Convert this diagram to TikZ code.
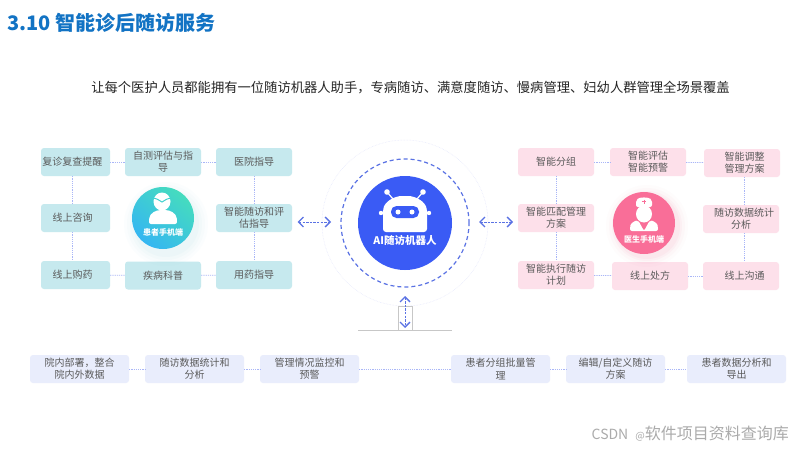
\documentclass[tikz,border=0pt]{standalone}
\usepackage{fontspec}
\setmainfont{Noto Sans CJK SC}
\usetikzlibrary{arrows.meta,calc}
\definecolor{tealbox}{HTML}{C6E9EE}
\definecolor{pinkbox}{HTML}{FDE0EA}
\definecolor{lavbox}{HTML}{E9EDFC}
\definecolor{linkc}{HTML}{A9B6F7}
\definecolor{arrowc}{HTML}{5A72E4}
\definecolor{txt}{HTML}{5A5A5A}
\definecolor{robot}{HTML}{3A5BF5}
\definecolor{docpink}{HTML}{F96E98}
\definecolor{titleblue}{HTML}{1273C4}
\definecolor{gradA}{HTML}{45DCBE}
\definecolor{gradB}{HTML}{35B6F2}
\definecolor{shadeteal}{HTML}{7FD0D8}
\tikzset{
  x=1pt,y=-1pt,
  card/.style={rounded corners=3pt,draw=none,inner sep=0pt,align=center,text=txt,
    font=\fontsize{10}{12.2}\selectfont,minimum height=28pt,minimum width=76pt},
  tealcard/.style={card,fill=tealbox},
  pinkcard/.style={card,fill=pinkbox},
  lavcard/.style={card,fill=lavbox,minimum width=99pt},
  link/.style={draw=linkc,line width=0.8pt,dash pattern=on 1.2pt off 1pt},
  bilink/.style={draw=arrowc,line width=0.9pt,dash pattern=on 2.4pt off 1.2pt,
    {Straight Barb[length=5pt,width=10pt,line width=1.3pt]}-{Straight Barb[length=5pt,width=10pt,line width=1.3pt]}},
  disc/.style={circle,inner sep=0pt,draw=none},
  captiontext/.style={text=white,font=\fontsize{8}{9}\selectfont\bfseries,inner sep=0pt},
}
\begin{document}
\begin{tikzpicture}
\useasboundingbox (0,0) rectangle (800,450);
\fill[white] (0,0) rectangle (800,450);
% title and subtitle
\node[anchor=west,inner sep=0pt,text=titleblue,font=\fontsize{20}{22}\selectfont\bfseries] (title) at (7,23) {3.10 智能诊后随访服务};
\node[inner sep=0pt,text=black!85,font=\fontsize{13.3}{15}\selectfont] (sub) at (410.5,88) {让每个医护人员都能拥有一位随访机器人助手，专病随访、满意度随访、慢病管理、妇幼人群管理全场景覆盖};
% patient cards
\node[tealcard,minimum width=69pt] (p1) at (75.5,162) {\kern-6pt 复诊复查提醒};
\node[tealcard] (p2) at (163,162) {自测评估与指\\导};
\node[tealcard] (p3) at (254,162) {医院指导};
\node[tealcard,minimum width=69pt] (p4) at (75.5,218) {\kern-6pt 线上咨询};
\node[tealcard] (p5) at (254,218) {智能随访和评\\估指导};
\node[tealcard,minimum width=69pt] (p6) at (75.5,275) {\kern-6pt 线上购药};
\node[tealcard] (p7) at (163,275.5) {疾病科普};
\node[tealcard] (p8) at (254,275) {用药指导};
\draw[link] (p1) -- (p2);
\draw[link] (p2) -- (p3);
\draw[link] (p6) -- (p7);
\draw[link] (p7) -- (p8);
\draw[link] ([xshift=-3pt]p1.south) -- ([xshift=-3pt]p4.north);
\draw[link] ([xshift=-3pt]p4.south) -- ([xshift=-3pt]p6.north);
\draw[link] (p3) -- (p5);
\draw[link] (p5) -- (p8);
% doctor cards
\node[pinkcard] (d1) at (556,162) {智能分组};
\node[pinkcard] (d2) at (648,162) {智能评估\\智能预警};
\node[pinkcard] (d3) at (742,163) {\kern5pt 智能调整\\\kern5pt 管理方案};
\node[pinkcard] (d4) at (556,218) {智能匹配管理\\方案};
\node[pinkcard] (d5) at (741,219) {\kern6pt 随访数据统计\\\kern0pt 分析};
\node[pinkcard] (d6) at (556,275) {智能执行随访\\计划};
\node[pinkcard] (d7) at (650,276) {线上处方};
\node[pinkcard] (d8) at (741,276) {\kern7pt 线上沟通};
\draw[link] (d1) -- (d2);
\draw[link] (d2) -- (d3);
\draw[link] (d6) -- (d7);
\draw[link] (d7) -- (d8);
\draw[link] (d1) -- (d4);
\draw[link] (d4) -- (d6);
\draw[link] ([xshift=2pt]d3.south) -- ([xshift=3pt]d5.north);
\draw[link] ([xshift=3pt]d5.south) -- ([xshift=3pt]d8.north);
% bottom cards
\node[lavcard] (b1) at (79.5,369) {院内部署，整合\\院内外数据};
\node[lavcard] (b2) at (194.5,369) {随访数据统计和\\分析};
\node[lavcard] (b3) at (309.5,369) {管理情况监控和\\预警};
\node[lavcard] (b4) at (500.5,369) {患者分组批量管\\理};
\node[lavcard] (b5) at (615.5,369) {编辑/自定义随访\\方案};
\node[lavcard] (b6) at (736.5,369) {患者数据分析和\\导出};
\draw[link] (b1) -- (b2);
\draw[link] (b2) -- (b3);
\draw[link] (b3) -- (b4);
\draw[link] (b4) -- (b5);
\draw[link] (b5) -- (b6);
% patient disc
\foreach \r/\o in {42/0.025,39/0.03,36/0.04,33/0.05}
  \fill[shadeteal,opacity=\o] (166,224) circle[radius=\r pt];
\node[disc,minimum size=62pt,shading=axis,left color=gradA,right color=gradB,shading angle=-40] (pdisc) at (163,218) {};
\fill[white] (162,201.5) ellipse[x radius=8.5pt,y radius=9pt];
\draw[gradA!70!gradB,line width=1pt] (153.5,198) .. controls (158,199) and (160,201) .. (162,202) .. controls (164,201) and (166,199) .. (170.5,198);
\fill[white,rounded corners=2pt] (149,224) -- (149,220) .. controls (150,213) and (156,210) .. (163,210) .. controls (170,210) and (176,213) .. (177,220) -- (177,224) -- cycle;
\node[captiontext] (pcap) at (163,232) {患者手机端};
% doctor disc
\foreach \r/\o in {41/0.02,38/0.03,35/0.05,33/0.06}
  \fill[docpink,opacity=\o] (647,226) circle[radius=\r pt];
\node[disc,minimum size=62pt,fill=docpink] (ddisc) at (644,223) {};
\fill[white,rounded corners=2pt] (636,207) -- (636,200) .. controls (640,197) and (648,197) .. (652,200) -- (652,207) -- cycle;
\draw[docpink,line width=0.9pt] (644,199.5) -- (644,204) (641.8,201.8) -- (646.2,201.8);
\fill[white] (644,214) ellipse[x radius=8pt,y radius=8.5pt];
\fill[white,rounded corners=2pt] (630,231) -- (630,227) .. controls (631,223) and (635,221) .. (638,220) -- (644,231) -- (650,220) .. controls (653,221) and (657,223) .. (658,227) -- (658,231) -- cycle;
\node[captiontext] (dcap) at (644,239) {医生手机端};
% central robot
\node[disc,minimum size=166pt,draw=linkc!35,line width=0.5pt,densely dotted] (halo) at (405,223) {};
\node[disc,minimum size=128pt,draw=arrowc,line width=1.2pt,dash pattern=on 4pt off 3pt] (ring) at (405,223) {};
\node[disc,minimum size=94pt,fill=robot] (core) at (405,223) {};
\draw[white,line width=1.2pt] (387,192) -- (393,199) (423,192) -- (417,199);
\fill[white] (387,192) circle[radius=2.8pt] (423,192) circle[radius=2.8pt];
\fill[white] (381,213) circle[radius=2.2pt] (429,213) circle[radius=2.2pt];
\fill[white,rounded corners=3pt] (383,232) -- (383,212) .. controls (384,202) and (394,196) .. (405,196) .. controls (416,196) and (426,202) .. (427,212) -- (427,232) -- cycle;
\fill[robot,rounded corners=5.5pt] (391,206) rectangle (419,218);
\fill[white] (398,212) circle[radius=2.5pt] (412,212) circle[radius=2.5pt];
\node[text=white,inner sep=0pt,font=\fontsize{10.5}{12}\selectfont\bfseries] (rcap) at (405,240) {AI随访机器人};
% stub under the ring
\coordinate (barl) at (358,330.5);
\coordinate (barr) at (452,330.5);
\coordinate (stubtop) at (405,296);
\coordinate (stubbot) at (405,328);
\coordinate (arrLa) at (297.5,222);
\coordinate (arrLb) at (331,222);
\coordinate (arrRa) at (479,222);
\coordinate (arrRb) at (513,222);
\draw[black!22,line width=0.8pt] (barl) -- (barr);
\draw[black!22,line width=0.5pt] (398,306) rectangle (412,330.5);
% bidirectional arrows
\draw[bilink] (arrLa) -- (arrLb);
\draw[bilink] (arrRa) -- (arrRb);
\draw[bilink] (stubtop) -- (stubbot);
% watermark
\node[anchor=east,inner sep=0pt,text=black!33,font=\fontsize{16}{18}\selectfont] (mark) at (789,434) {{\fontsize{14}{16}\selectfont CSDN}\hspace{7pt}{\fontsize{10}{12}\selectfont @}软件项目资料查询库};
\end{tikzpicture}
\end{document}
